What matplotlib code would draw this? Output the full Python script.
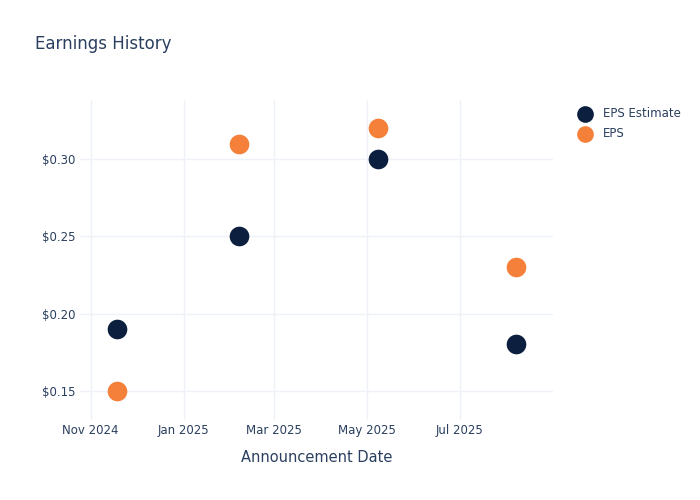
import numpy as np
import pandas as pd
import matplotlib
matplotlib.use("Agg")
import matplotlib.pyplot as plt
import matplotlib.dates as mdates
from matplotlib.ticker import FuncFormatter

dates = pd.to_datetime(["2024-11-18", "2025-02-06", "2025-05-08", "2025-08-07"])
eps_estimate = [0.19, 0.25, 0.30, 0.18]
eps_actual = [0.15, 0.31, 0.32, 0.23]

txt = "#2a3f5f"
grid = "#eef1f7"

fig = plt.figure(figsize=(7, 5), dpi=100)
ax = fig.add_axes([80/700, 80/500, 473/700, 320/500])

ax.scatter(dates, eps_estimate, s=200, color="#0c1f3f", label="EPS Estimate", zorder=3, linewidths=0)
ax.scatter(dates, eps_actual, s=200, color="#f5803a", label="EPS", zorder=3, linewidths=0)

ax.set_xlim(pd.Timestamp("2024-10-25"), pd.Timestamp("2025-08-31"))
ax.set_ylim(0.1311, 0.3382)
ax.xaxis.set_major_locator(mdates.MonthLocator(bymonth=[1, 3, 5, 7, 11]))
ax.xaxis.set_major_formatter(mdates.DateFormatter("%b %Y"))
ax.set_yticks([0.15, 0.20, 0.25, 0.30])
ax.yaxis.set_major_formatter(FuncFormatter(lambda v, p: f"${v:.2f}"))

ax.grid(True, color=grid, linewidth=1)
ax.set_axisbelow(True)
for s in ax.spines.values():
    s.set_visible(False)
ax.tick_params(length=0, colors=txt, labelsize=8.5, pad=3)
ax.set_xlabel("Announcement Date", color=txt, fontsize=10.5, labelpad=9)

fig.text(35/700, 1 - 44/500, "Earnings History", color=txt, fontsize=12, va="center")

leg = ax.legend(loc="upper left", bbox_to_anchor=(1.02, 1.01), frameon=False,
                fontsize=8.5, handletextpad=0.5, labelspacing=0.55, markerscale=0.85)
for t in leg.get_texts():
    t.set_color(txt)

fig.savefig("out.png", dpi=100)
